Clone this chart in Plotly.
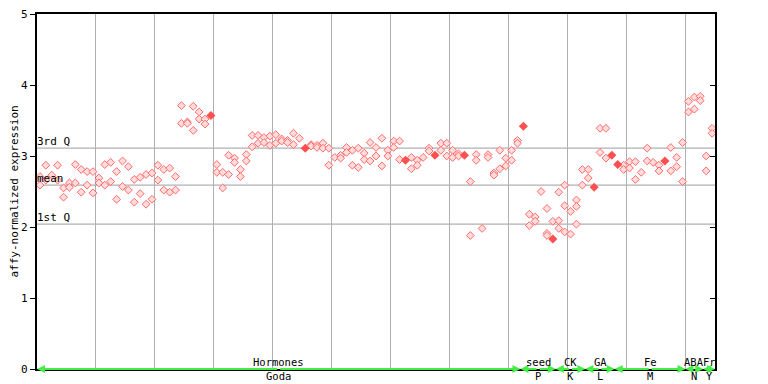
import plotly.graph_objects as go

# ---- data ----
open_sample = [0,0,1,1,2,3,3,4,4,5,5,6,6,7,7,8,8,9,9,10,10,11,11,12,12,13,13,14,14,15,15,16,16,17,17,18,18,19,19,
               20,20,21,21,22,22,23,23,24,24,25,25,26,26,27,27,28,28,30,30,31,31,32,32,33,33,34,34,35,35,36,36,37,37,
               38,38,39,39,40,40,41,41,42,42,43,43,44,46,46,47,47,48,48,49,49,50,51,51,52,52,53,53,54,54,55,55,56,56,
               57,57,58,58,59,59,60,60,61,61,63,63,64,64,65,66,66,68,68,69,69,70,70,71,71,73,73,74,74,75,76,76,77,77,
               78,78,79,79,80,80,81,81,83,83,84,84,85,86,86,86,87,88,88,88,89,89,89,90,90,91,91,91,92,92,93,93,95,95,
               96,96,99,99,100,100,101,101,102,103,103,104,105,105,107,107,108,108,109,109,110,110,111,111,112,112,
               113,113,114,114]
open_value = [2.71,2.59,2.87,2.66,2.73,2.87,2.66,2.55,2.42,2.62,2.56,2.88,2.62,2.81,2.49,2.78,2.59,2.78,2.48,2.69,2.62,
              2.88,2.59,2.91,2.64,2.78,2.39,2.93,2.57,2.85,2.52,2.67,2.35,2.70,2.47,2.74,2.32,2.76,2.39,2.87,2.66,
              2.81,2.52,2.83,2.49,2.71,2.52,3.46,3.71,3.48,3.46,3.70,3.36,3.62,3.52,3.52,3.45,2.88,2.77,2.77,2.55,
              3.01,2.74,2.97,2.91,2.81,2.71,3.02,2.93,3.29,3.13,3.29,3.18,3.26,3.19,3.28,3.15,3.30,3.18,3.24,3.21,
              3.22,3.19,3.32,3.16,3.25,3.16,3.14,3.15,3.12,3.18,3.11,3.11,2.87,2.98,3.01,2.97,3.12,3.05,3.08,2.87,
              3.11,2.84,3.04,2.95,3.19,2.93,3.12,3.00,3.25,2.86,3.08,3.00,3.21,3.12,3.21,2.95,2.98,2.82,2.94,2.87,
              2.98,3.11,3.07,3.18,3.08,3.18,3.00,3.08,2.98,3.03,3.00,2.64,1.88,3.02,2.94,1.98,3.02,2.98,2.76,2.73,
              3.08,2.82,2.97,2.86,3.08,2.94,3.22,3.18,2.18,2.02,2.14,2.08,2.50,2.26,1.91,1.88,2.08,2.49,2.09,1.98,
              2.59,2.30,1.93,2.22,1.90,2.38,2.29,2.04,2.81,2.59,2.81,2.69,3.39,3.05,3.39,2.97,2.87,2.81,2.92,2.83,
              2.92,2.67,2.77,3.11,2.93,2.91,2.87,2.79,3.12,2.79,2.98,2.85,3.19,2.64,3.77,3.62,3.83,3.66,3.84,3.78,
              3.00,2.79,3.39,3.32]
solid_sample = [29, 45, 62, 67, 72, 82, 87, 94, 97, 98, 106]
solid_value = [3.57, 3.11, 2.94, 3.01, 3.01, 3.42, 1.83, 2.56, 3.01, 2.88, 2.93]

n_samples = 115
q3_value = 3.11
mean_value = 2.59
q1_value = 2.04

group_top = ["Hormones", "seed", "CK", "GA", "Fe", "ABA", "Fr"]
group_bottom = ["Goda", "P", "K", "L", "M", "N", "Y"]
group_first = [0, 82, 88, 93, 98, 110, 113]
group_last = [81, 87, 92, 97, 109, 112, 114]

y_ticks = [0, 1, 2, 3, 4, 5]
y_tick_text = ["0", "1", "2", "3", "4", "5"]

# ---- figure ----
FONT = "DejaVu Sans Mono"
GRID = "#b0b0b0"
fig = go.Figure()

fig.add_trace(go.Scatter(
    x=open_sample, y=open_value, mode="markers",
    marker=dict(symbol="diamond", size=6, color="#ffdcdc",
                line=dict(color="#ff6a6a", width=1)),
    showlegend=False, hoverinfo="x+y"))
fig.add_trace(go.Scatter(
    x=solid_sample, y=solid_value, mode="markers",
    marker=dict(symbol="diamond", size=7, color="#ff5050",
                line=dict(color="#ff5050", width=0)),
    showlegend=False, hoverinfo="x+y"))

# quartile / mean reference lines
for val, lab in [(q3_value, "3rd Q"), (mean_value, "mean"), (q1_value, "1st Q")]:
    fig.add_shape(type="line", xref="paper", x0=0, x1=1, yref="y", y0=val, y1=val,
                  line=dict(color=GRID, width=1.2), layer="below")
    fig.add_annotation(xref="paper", x=0, yref="y", y=val, text=lab, showarrow=False,
                       xanchor="left", yanchor="bottom", yshift=-2, xshift=-2,
                       font=dict(family=FONT, size=11, color="black"))

# group arrows and labels
for top, bot, a, b in zip(group_top, group_bottom, group_first, group_last):
    lo, hi = a - 0.5, b + 0.5
    mid = (lo + hi) / 2
    for end in (lo, hi):
        fig.add_annotation(x=end, y=0, ax=mid, ay=0, xref="x", yref="y", axref="x", ayref="y",
                           showarrow=True, arrowhead=2, arrowsize=0.8, arrowwidth=2,
                           arrowcolor="#44ee44", text="")
    fig.add_annotation(x=mid, y=0, xref="x", yref="y", text=top, showarrow=False,
                       yanchor="bottom", yshift=-1, font=dict(family=FONT, size=10.5, color="black"))
    fig.add_annotation(x=mid, y=0, xref="x", yref="y", text=bot, showarrow=False,
                       yanchor="top", yshift=1, font=dict(family=FONT, size=10.5, color="black"))

# y tick labels as annotations (left margin is narrow)
for v, t in zip(y_ticks, y_tick_text):
    fig.add_annotation(xref="paper", yref="y", x=0, y=v, text=t, showarrow=False,
                       xanchor="right", yanchor="middle", xshift=-7,
                       font=dict(family=FONT, size=11, color="black"))

# y-axis title placed manually
fig.add_annotation(xref="paper", yref="paper", x=-23 / 678, y=0.5, text="affy-normalized expression",
                   textangle=-90, showarrow=False, xanchor="center", yanchor="middle",
                   font=dict(family=FONT, size=11, color="black"))

# the page body adds an 8px offset, so the figure is 8px smaller each way
fig.update_layout(
    width=760, height=376,
    margin=dict(l=29, r=53, t=6, b=15, autoexpand=False),
    paper_bgcolor="white", plot_bgcolor="white",
    font=dict(family=FONT, size=11, color="black"),
    xaxis=dict(range=[-0.5, n_samples - 0.5], automargin=False,
               tickvals=[k + 9.5 for k in range(0, n_samples - 10, 10)],
               showticklabels=False, ticks="", showgrid=True,
               gridcolor=GRID, gridwidth=1.2, zeroline=False,
               showline=True, linecolor="black", linewidth=1.5, mirror=True),
    yaxis=dict(range=[0, 5], tickvals=y_ticks, ticks="outside", ticklen=5, automargin=False,
               tickcolor="black", showgrid=False, zeroline=False, showticklabels=False,
               showline=True, linecolor="black", linewidth=1.5, mirror=True),
    yaxis2=dict(range=[0, 5], overlaying="y", side="right", tickvals=y_ticks, automargin=False,
                ticks="inside", ticklen=5, tickcolor="black", showticklabels=False,
                showgrid=False, zeroline=False),
)
fig.add_trace(go.Scatter(x=[None], y=[None], yaxis="y2", showlegend=False, hoverinfo="skip"))

fig.write_html("out.html")
